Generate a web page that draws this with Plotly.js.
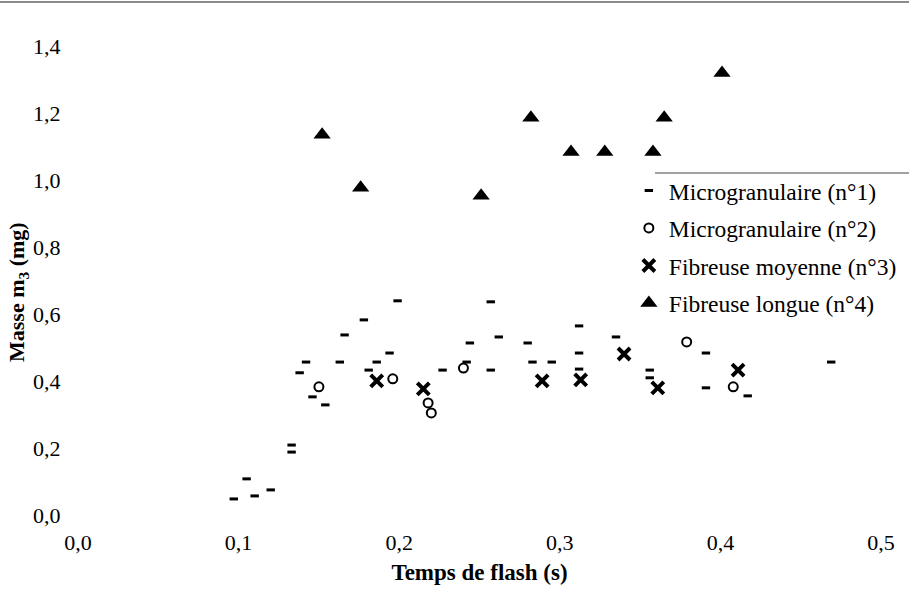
<!DOCTYPE html>
<html>
<head>
<meta charset="utf-8">
<script src="https://cdn.plot.ly/plotly-3.0.1.min.js"></script>
<style>
html,body{margin:0;padding:0;background:#fff;}
#chart{width:909px;height:611px;}
</style>
</head>
<body>
<div id="chart"></div>
<script>
// Microgranulaire (n°1)
const s1x = [0.097,0.105,0.110,0.120,0.133,0.133,0.138,0.142,0.146,0.154,0.163,0.166,0.178,0.181,0.186,0.194,0.199,0.227,0.242,0.244,0.257,0.257,0.262,0.280,0.283,0.295,0.312,0.312,0.312,0.335,0.356,0.356,0.391,0.391,0.417,0.469];
const s1y = [0.048,0.108,0.057,0.075,0.188,0.209,0.425,0.457,0.353,0.329,0.457,0.538,0.583,0.433,0.457,0.484,0.640,0.433,0.457,0.514,0.637,0.433,0.532,0.514,0.457,0.457,0.565,0.484,0.436,0.532,0.433,0.410,0.484,0.380,0.356,0.457];
// Microgranulaire (n°2)
const s2x = [0.150,0.196,0.218,0.220,0.240,0.379,0.408];
const s2y = [0.383,0.407,0.335,0.305,0.439,0.517,0.383];
// Fibreuse moyenne (n°3)
const s3x = [0.186,0.215,0.289,0.313,0.340,0.361,0.411];
const s3y = [0.401,0.377,0.401,0.404,0.481,0.380,0.433];
// Fibreuse longue (n°4)
const s4x = [0.152,0.176,0.251,0.282,0.307,0.328,0.358,0.365,0.401];
const s4y = [1.136,0.978,0.954,1.187,1.085,1.085,1.085,1.187,1.321];

const names = ['Microgranulaire (n°1)','Microgranulaire (n°2)','Fibreuse moyenne (n°3)','Fibreuse longue (n°4)'];
const xTicks = [0,0.1,0.2,0.3,0.4,0.5];
const yTicks = [0,0.2,0.4,0.6,0.8,1.0,1.2,1.4];

const FONT = 'Liberation Serif';

const traces = [
  {x:s1x, y:s1y, name:names[0], legendgroup:'a', mode:'markers', type:'scatter', cliponaxis:false,
   marker:{symbol:'line-ew', size:6, color:'#000', line:{color:'#000', width:3}}},
  {x:s2x, y:s2y, name:names[1], legendgroup:'b', mode:'markers', type:'scatter', cliponaxis:false,
   marker:{symbol:'circle-open', size:9, color:'#000', line:{color:'#000', width:2}}},
  {x:s3x, y:s3y, name:names[2], legendgroup:'c', mode:'markers', type:'scatter', cliponaxis:false,
   marker:{symbol:'x-thin-open', size:12, color:'#000', line:{color:'#000', width:4}}},
  {x:s4x, y:s4y, name:names[3], legendgroup:'d', mode:'markers', type:'scatter', cliponaxis:false,
   marker:{symbol:'triangle-up', size:15, color:'#000', line:{width:0}}}
];

const layout = {
  width:909, height:611,
  margin:{l:78, r:28, t:13, b:96, autoexpand:false},
  paper_bgcolor:'#fff', plot_bgcolor:'#fff',
  separators:', ',
  font:{family:FONT, size:22, color:'#000'},
  showlegend:true,
  legend:{x:0.686, xanchor:'left', y:0.69, yanchor:'top', bgcolor:'rgba(0,0,0,0)',
          font:{family:FONT, size:23.5, color:'#000'}, traceorder:'grouped', tracegroupgap:4},
  xaxis:{range:[0,0.5], tickvals:xTicks, tickformat:'.1f', showgrid:false, zeroline:false, showline:false,
         ticks:'outside', ticklen:8, tickcolor:'rgba(0,0,0,0)',
         tickfont:{family:FONT, size:22, color:'#000'},
         title:{text:'<b>Temps de flash (s)</b>', font:{family:FONT, size:23, color:'#000'}, standoff:9}},
  yaxis:{range:[0,1.5], tickvals:yTicks, tickformat:'.1f', showgrid:false, zeroline:false, showline:false,
         ticks:'outside', ticklen:12, tickcolor:'rgba(0,0,0,0)',
         tickfont:{family:FONT, size:22, color:'#000'}},
  annotations:[
    {text:'<b>Masse m<sub>3</sub> (mg)</b>', textangle:-90, xref:'paper', yref:'paper',
     x:-60/803, y:(515-292)/502, xanchor:'center', yanchor:'middle', showarrow:false,
     font:{family:FONT, size:22, color:'#000'}}
  ],
  shapes:[
    {type:'line', xref:'paper', yref:'paper', x0:-78/803, x1:831/803, y0:1+11/502, y1:1+11/502,
     line:{color:'#666', width:1.5}},
    {type:'line', xref:'paper', yref:'paper', x0:577/803, x1:831/803, y0:(515-173)/502, y1:(515-173)/502,
     line:{color:'#444', width:1.2}}
  ]
};

Plotly.newPlot('chart', traces, layout, {displayModeBar:false, staticPlot:true});
</script>
</body>
</html>
